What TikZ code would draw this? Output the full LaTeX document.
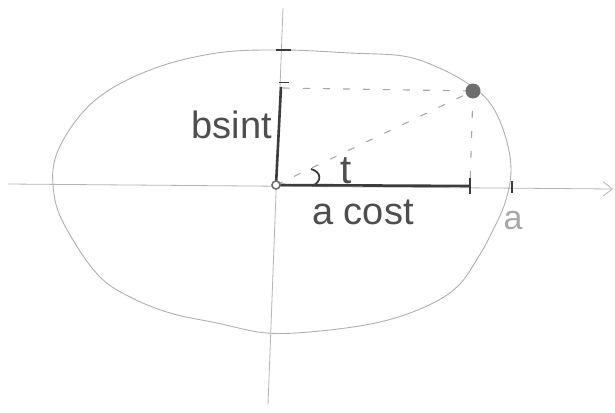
\documentclass[tikz,border=0pt]{standalone}
\usepackage{fontspec}
\setmainfont{Liberation Sans}
\usetikzlibrary{arrows.meta}
\definecolor{axisgrey}{HTML}{B4B4B4}
\definecolor{ellgrey}{HTML}{B0B0B0}
\definecolor{inkgrey}{HTML}{3C3C3C}
\definecolor{dotgrey}{HTML}{6E6E6E}
\definecolor{txtgrey}{HTML}{4E4E4E}
\definecolor{dashgrey}{HTML}{A8A8A8}
\tikzset{
  axisline/.style={draw=axisgrey, line width=0.8pt},
  ellline/.style={draw=ellgrey, line width=0.9pt},
  thickline/.style={draw=inkgrey, line width=2.6pt},
  dashline/.style={draw=dashgrey, line width=1.1pt, dash pattern=on 7pt off 13pt},
  ticky/.style={draw=inkgrey, line width=1.4pt},
  hand/.style={text=txtgrey, inner sep=0pt, font=\fontsize{38}{40}\selectfont},
}
\begin{document}
\begin{tikzpicture}[x=1pt,y=-1pt]
\useasboundingbox[fill=white] (0,0) rectangle (615,412);
% key points
\coordinate (O) at (276,185);
\coordinate (xl) at (8,184);
\coordinate (xr) at (613,189);
\coordinate (yt) at (283,8);
\coordinate (yb) at (268,405);
\coordinate (P) at (473,91);
\coordinate (Px) at (470,186);
\coordinate (Py) at (281,87);
\coordinate (Ha) at (283,88);
\coordinate (Ae) at (512,187);
% axes
\draw[axisline, -{Straight Barb[length=9pt,width=14pt]}] (xl) -- (xr);
\draw[axisline] (yt) -- (yb);
% ellipse (hand drawn)
\draw[ellline] plot[smooth cycle, tension=0.6] coordinates {
  (283,50) (350,53) (403,56) (437,67) (467,83) (490,103) (505,135) (511,170)
  (505,203) (492,232) (479,256) (458,286) (427,306) (380,322) (320,331) (267,333)
  (217,323) (170,313) (130,297) (100,277) (73,240) (55,200) (57,153) (93,102)
  (150,70) (217,53)};
% ticks on axes
\draw[ticky] (276,50) -- (291,50);
\draw[ticky, line width=1pt] (279,82) -- (289,82);
% dashed lines
\draw[dashline] (Ha) -- (P);
\draw[dashline] (O) -- (P);
\draw[dashline] (P) -- (Px);
% thick segments
\draw[thickline] (O) -- (Py);
\draw[thickline] (O) -- (Px);
\draw[thickline] (470,178) -- (470,194);
\draw[ticky, line width=1.2pt] (Ae) ++(0,-6) -- ++(0,12);
% origin circle
\node[circle, draw=dotgrey, fill=white, line width=1.6pt, minimum size=8pt, inner sep=0pt] (Oc) at (O) {};
% point on ellipse
\node[circle, fill=dotgrey, minimum size=15pt, inner sep=0pt] (Pd) at (P) {};
% angle mark
\draw[draw=inkgrey, line width=1.8pt] (311,169) .. controls (322,172) and (322,182) .. (312,186);
% labels
\node[hand] (lb) at (232,125) {bsint};
\node[hand] (lc) at (363,212) {a cost};
\node[hand, font=\fontsize{40}{42}\selectfont] (lt) at (346,171) {t};
\node[hand, text=dashgrey, font=\fontsize{34}{36}\selectfont] (la) at (513,221) {a};
\end{tikzpicture}
\end{document}
